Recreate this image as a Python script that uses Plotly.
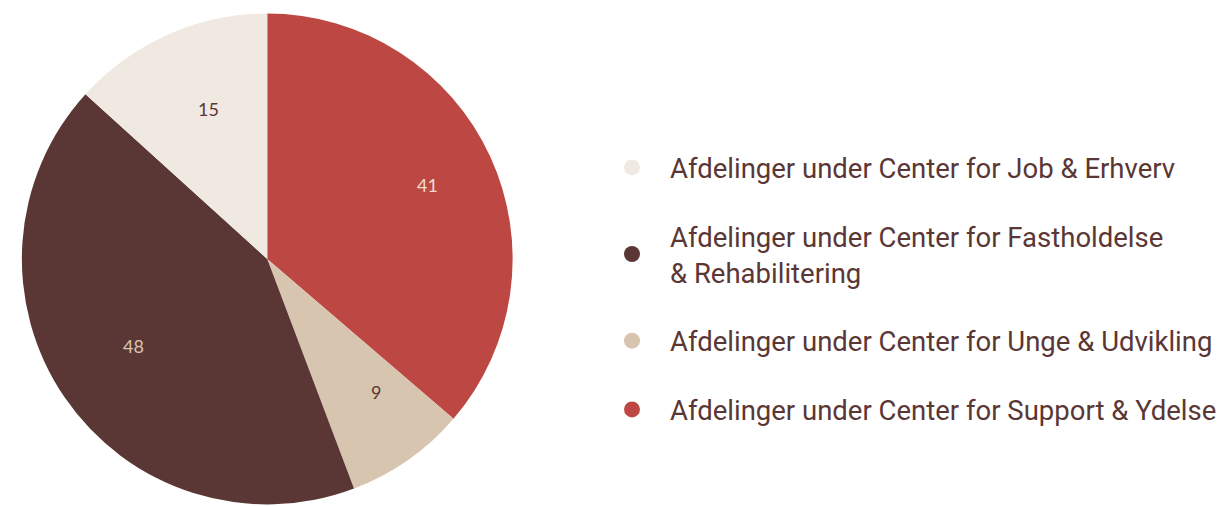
import math
import plotly.graph_objects as go

categories = [
    "Afdelinger under Center for Job & Erhverv",
    "Afdelinger under Center for Fastholdelse<br>& Rehabilitering",
    "Afdelinger under Center for Unge & Udvikling",
    "Afdelinger under Center for Support & Ydelse",
]
values = [15, 48, 9, 41]
colors = ["#f0e9e2", "#5a3735", "#d8c5b0", "#bd4843"]
label_colors = ["#5a3735", "#d8c5b0", "#5a3735", "#f0dccc"]

W, H = 1222, 506
R = 247
cx = 269

fig = go.Figure()
# slices run counterclockwise from 12 o'clock in legend order (drawn clockwise from the reversed list)
fig.add_trace(go.Pie(
    labels=categories[::-1],
    values=values[::-1],
    sort=False,
    direction="clockwise",
    rotation=0,
    marker=dict(colors=colors[::-1], line=dict(width=0)),
    textinfo="none",
    domain=dict(x=[(cx - R) / W, (cx + R) / W], y=[0, 2 * R / H]),
    showlegend=False,
    hoverinfo="skip",
))

# value labels placed along each slice's bisector (counterclockwise from 12 o'clock)
total = sum(values)
cum = 0
for v, c in zip(values, label_colors):
    mid = (cum + v / 2) / total * 2 * math.pi
    cum += v
    ang = -mid
    fig.add_annotation(
        x=(cx + 0.72 * R * math.sin(ang)) / W,
        y=(R + 0.72 * R * math.cos(ang)) / H,
        xref="paper", yref="paper", text=str(v), showarrow=False,
        font=dict(family="Lato", size=18, color=c),
    )

for name, col in zip(categories, colors):
    fig.add_trace(go.Scatter(
        x=[None], y=[None], mode="markers", name=name, legendgroup=name,
        marker=dict(color=col, size=20, symbol="circle"),
        hoverinfo="skip",
    ))

fig.update_layout(
    width=W, height=H,
    margin=dict(l=0, r=0, t=0, b=0),
    paper_bgcolor="white", plot_bgcolor="white",
    xaxis=dict(visible=False), yaxis=dict(visible=False),
    legend=dict(
        x=598 / W, xanchor="left", y=1 - 143 / H, yanchor="top",
        font=dict(family="Roboto", size=27.5, color="#5a3735"),
        itemwidth=66, tracegroupgap=30, traceorder="grouped",
        bgcolor="rgba(0,0,0,0)",
    ),
    showlegend=True,
)

fig.write_html("out.html")
